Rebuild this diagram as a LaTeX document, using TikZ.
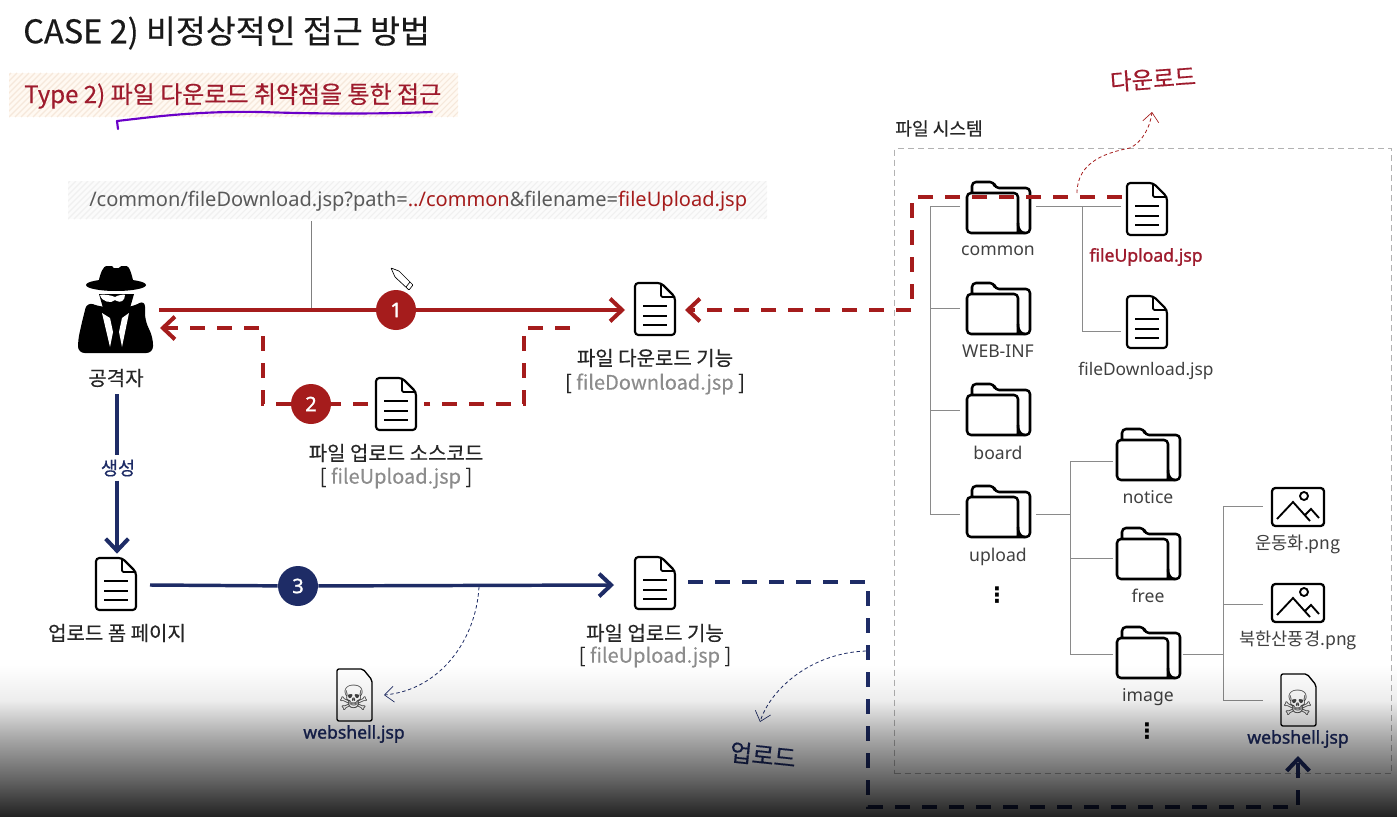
\documentclass[tikz,border=0pt]{standalone}
\usepackage{fontspec}
\setmainfont{Noto Sans CJK KR}
\newfontfamily\krm[FakeBold=0.35]{Noto Sans CJK KR}
\newfontfamily\lat{Noto Sans}
\newfontfamily\latb[FakeBold=1.3]{Noto Sans}
\newfontfamily\djv{DejaVu Sans}
\usetikzlibrary{arrows.meta,fadings,calc}
\definecolor{cred}{HTML}{A51C1C}
\definecolor{tred}{HTML}{9E1B2D}
\definecolor{cnavy}{HTML}{1E2C66}
\definecolor{tgray}{HTML}{595959}
\definecolor{lgray}{HTML}{8C8C8C}
\definecolor{treeg}{HTML}{8A8A8A}
\pgfdeclareverticalshading{botshade}{100bp}{color(0bp)=(pgftransparent!13); color(25bp)=(pgftransparent!13); color(37bp)=(pgftransparent!40); color(50bp)=(pgftransparent!67); color(61bp)=(pgftransparent!93); color(72bp)=(pgftransparent!100); color(100bp)=(pgftransparent!100)}
\pgfdeclarefading{fadeb}{\pgfuseshading{botshade}}
\newcommand{\fsz}[1]{\fontsize{#1}{#1}\selectfont}
\tikzset{
  x=.75pt,y=-.75pt,
  anchorbox/.style={inner sep=0pt,outer sep=0pt},
  lab/.style={inner sep=0pt,yshift=-1.5pt,font=\fsz{15}\krm\color{black!85},align=center},
  fn/.style={inner sep=0pt,yshift=-1.5pt,font=\fsz{13.2}\lat\color{black!75}},
  fk/.style={inner sep=0pt,yshift=-1.5pt,font=\fsz{13.2}\color{black!75}},
  fnb/.style={inner sep=0pt,yshift=-1.5pt,font=\fsz{13.2}\latb},
  num/.style={circle,inner sep=0pt,minimum size=30pt,text=white,font=\fsz{15}\latb},
  solidred/.style={draw=cred,line width=3pt},
  dashred/.style={draw=cred,line width=3pt,dash pattern=on 11.25pt off 9pt},
  solidnavy/.style={draw=cnavy,line width=2.6pt},
  dashnavy/.style={draw=cnavy,line width=2.6pt,dash pattern=on 11.25pt off 9pt},
  tip/.style={-{Straight Barb[length=9pt,width=17pt,line width=3pt]}},
  thin dash/.style={line width=.6pt,dash pattern=on 2.6pt off 2pt,-{Straight Barb[length=7pt,width=12pt,line width=.5pt]}},
  tree/.style={draw=treeg,line width=.7pt},
  docicon/.pic={
    \draw[line width=1.6pt,rounded corners=2.5pt,fill=white] (-20,-26) -- (6,-26) -- (20,-12) -- (20,26) -- (-20,26) -- cycle;
    \draw[line width=1.4pt,rounded corners=1pt] (6,-26) -- (6,-12) -- (20,-12);
    \draw[line width=1.5pt] (-12,-3) -- (12,-3) (-12,7) -- (12,7) (-12,16) -- (12,16);
  },
  foldicon/.pic={
    \draw[line width=1.9pt,rounded corners=3pt,line join=round] (-26,-13) -- (-26,-24) -- (-4,-24) -- (-3,-18) -- (32,-18) -- (32,27) -- (-31,27) -- (-31,-13) -- (20,-13) -- (20,27);
    \draw[line width=1.9pt] (20,17) .. controls (20,25) and (24,27) .. (27,27);
  },
  imgicon/.pic={
    \draw[line width=1.7pt,rounded corners=2.5pt] (-26,-19) rectangle (26,19);
    \draw[line width=1.4pt] (6,-11) circle (3pt);
    \draw[line width=1.4pt] (-21,12) -- (-5,-5) -- (12,14) (7,8) -- (13,2) -- (21,11);
  },
  shellicon/.pic={
    \draw[line width=1pt,rounded corners=1.5pt,fill=white] (-17,-26) -- (9,-26) -- (18,-15) -- (18,26) -- (-17,26) -- cycle;
    \node[inner sep=0pt,font=\fsz{26}\djv\color{black!75}] at (0.5,3) {☠};
  },
}
\newcommand{\hatchbar}[6]{%
  \begin{scope}
    \fill[#5] (#1,#2) rectangle (#3,#4);
    \clip (#1,#2) rectangle (#3,#4);
    \pgfmathsetmacro{\hh}{#4-#2}
    \foreach \k in {0,...,130} {
      \draw[#6,line width=.8pt] ($(#1,#4)+(\k*6,0)-(42,0)$) -- ++(\hh,-\hh);
    }
  \end{scope}}
\begin{document}
\begin{tikzpicture}
\useasboundingbox (0,0) rectangle (1399,817);
\fill[white] (0,0) rectangle (1399,817);

% Headings
\node[anchor=west,inner sep=0pt,font=\fsz{24.4}\krm\color{black!90}] (title) at (23,33) {CASE 2) 비정상적인 접근 방법};
\hatchbar{9}{73}{458}{117}{orange!5}{orange!18!brown!18}
\node[anchor=west,inner sep=0pt,font=\fsz{18}\krm\color{tred}] (sub) at (24,96) {Type 2) 파일 다운로드 취약점을 통한 접근};
\draw[draw={rgb,255:red,106;green,0;blue,200},line width=1.6pt,line cap=round,line join=round]
  (118,129) -- (117,121) .. controls (160,116) and (200,111) .. (260,112) .. controls (320,114) and (380,114) .. (432,112);

% URL
\hatchbar{68}{181}{767}{219}{black!1.5}{black!6}
\node[anchor=west,inner sep=0pt,font=\fsz{15.04}\lat\color{tgray}] (url) at (89,201) {/common/fileDownload.jsp?path=\textcolor{cred}{../common}\&filename=\textcolor{cred}{fileUpload.jsp}};
\coordinate (urlstem) at (311,221);

% left side icons
\node[anchorbox,minimum width=64.5pt,minimum height=60pt] (spy) at (116,310) {};
\begin{scope}[shift={(116,310)}]
  \fill[black,rounded corners=5pt] (-29,-8) -- (-15,-3) -- (16,-3) -- (29,-10) -- (29,10) -- (37,28) -- (37,43) -- (-38,43) -- (-38,30) -- (-34,12) -- cycle;
  \fill[black] (-17,-16) -- (18,-16) -- (14,-2) -- (0,6) -- (-13,-2) -- cycle;
  \fill[black,rounded corners=2pt] (-18,-24) .. controls (-16,-38) and (-12,-44) .. (-7,-44) .. controls (-3,-44) and (-2,-42) .. (0,-42) .. controls (3,-42) and (5,-44) .. (8,-44) .. controls (13,-44) and (16,-36) .. (18,-24) -- cycle;
  \fill[black] (0,-25) ellipse [x radius=22.5pt,y radius=4.5pt];
  \fill[white] (-16,-15) .. controls (-14,-16) and (-5,-15) .. (-1,-13) .. controls (2,-15) and (9,-16) .. (9,-15) .. controls (9,-9) and (4,-7) .. (1,-9) -- (-1,-10) .. controls (-5,-6) and (-14,-8) .. (-16,-15) -- cycle;
  \fill[white] (-14,3) -- (-6,8) -- (-3,22) -- (-6,37) -- cycle;
  \fill[white] (13,3) -- (6,8) -- (3,22) -- (6,37) -- cycle;
\end{scope}
\node[lab] (spyl) at (116,376) {공격자};

\node[anchorbox,minimum width=45pt,minimum height=42pt] (d1) at (655,310) {};
\pic at (655,309) {docicon};
\node[lab] (d1a) at (655,356) {파일 다운로드 기능};
\node[lab] (d1b) at (655,382) {[ \textcolor{lgray}{fileDownload.jsp} ]};

\node[anchorbox,minimum width=42pt,minimum height=42pt] (d2) at (396,404) {};
\pic at (396,404) {docicon};
\node[lab] (d2a) at (396,451) {파일 업로드 소스코드};
\node[lab] (d2b) at (396,476) {[ \textcolor{lgray}{fileUpload.jsp} ]};

\node[anchorbox,minimum width=39pt,minimum height=47pt] (d3) at (116,585) {};
\pic at (116,584) {docicon};
\node[lab] (d3a) at (117,631) {업로드 폼 페이지};

\node[anchorbox,minimum width=56pt,minimum height=42pt] (d4) at (650,585) {};
\pic at (655,583) {docicon};
\node[lab] (d4a) at (655,631) {파일 업로드 기능};
\node[lab] (d4b) at (655,655) {[ \textcolor{lgray}{fileUpload.jsp} ]};

\node[anchorbox,minimum width=42pt,minimum height=42pt] (ws1) at (354,695) {};
\pic at (354,695) {shellicon};
\node[fnb,text=cnavy] (ws1l) at (354,732) {webshell.jsp};

% File system box
\node[draw=black!30,line width=1pt,dash pattern=on 4.5pt off 3pt,anchor=north west,inner sep=0pt,minimum width=372.75pt,minimum height=468.75pt] (fs) at (894,148) {};
\node[lab,font=\fsz{13.6}\krm\color{black!85}] (fsl) at (939,126.5) {파일 시스템};

% Tree
\tikzset{fb/.style={anchorbox,minimum width=57pt,minimum height=45pt}, ib/.style={anchorbox,minimum width=52pt,minimum height=40pt}}
\node[fb] (f1) at (998,206) {}; \pic at (998,206) {foldicon}; \node[fn] (f1l) at (998,249) {common};
\node[fb] (f2) at (998,308) {}; \pic at (998,307) {foldicon}; \node[fn] (f2l) at (998,349) {WEB-INF};
\node[fb] (f3) at (998,410) {}; \pic at (998,408) {foldicon}; \node[fn] (f3l) at (998,451) {board};
\node[fb] (f4) at (998,514) {}; \pic at (998,510) {foldicon}; \node[fn] (f4l) at (998,555) {upload};
\node[lab,font=\fsz{16}\djv\bfseries] (f4d) at (997,593) {⋮};

\node[ib,minimum width=39pt] (x1) at (1147,206) {}; \pic at (1147,209) {docicon}; \node[fnb,text=tred] (x1l) at (1146,255) {fileUpload.jsp};
\node[ib,minimum width=39pt] (x2) at (1147,331) {}; \pic at (1147,322) {docicon}; \node[fn,font=\fsz{13}\lat\color{black!75}] (x2l) at (1146,369) {fileDownload.jsp};

\node[fb,minimum width=52pt] (g1) at (1148,461) {}; \pic at (1148,453) {foldicon}; \node[fn] (g1l) at (1148,495) {notice};
\node[fb,minimum width=52pt] (g2) at (1148,558) {}; \pic at (1148,552) {foldicon}; \node[fn] (g2l) at (1148,594) {free};
\node[fb,minimum width=52pt] (g3) at (1148,654) {}; \pic at (1148,651) {foldicon}; \node[fn] (g3l) at (1148,695) {image};
\node[lab,font=\fsz{16}\djv\bfseries] (g3d) at (1147,729) {⋮};

\node[ib,minimum width=52pt] (h1) at (1298,506) {}; \pic at (1298,507) {imgicon}; \node[fk] (h1l) at (1298,542) {운동화.png};
\node[ib,minimum width=52pt] (h2) at (1298,604) {}; \pic at (1298,603) {imgicon}; \node[fk] (h2l) at (1298,638) {북한산풍경.png};
\node[ib,minimum width=52pt] (h3) at (1298,700) {}; \pic at (1298,700) {shellicon}; \node[fnb,text=cnavy] (h3l) at (1298,737) {webshell.jsp};

\coordinate (ta) at (930,206);
\draw[tree] (f1.west) -- (ta) |- (f2.west);
\draw[tree] (ta) |- (f3.west);
\draw[tree] (ta) |- (f4.west);
\coordinate (tb) at (1082,206);
\draw[tree] (f1.east) -- (x1.west);
\draw[tree] (tb) |- (x2.west);
\coordinate (tc) at (1070,514);
\draw[tree] (f4.east) -- (tc);
\draw[tree] (tc) |- (g1.west);
\draw[tree] (tc) |- (g2.west);
\draw[tree] (tc) |- (g3.west);
\coordinate (td) at (1223,654);
\draw[tree] (g3.east) -- (td);
\draw[tree] (td) |- (h1.west);
\draw[tree] (td) |- (h2.west);
\draw[tree] (td) |- (h3.west);

% Step badges
\node[num,fill=cred] (n1) at (396,310) {1};
\node[num,fill=cred] (n2) at (311,404) {2};
\node[num,fill=cnavy] (n3) at (298,586) {3};

% Connectors
\draw[draw=black!50,line width=.7pt] (urlstem) -- (urlstem |- n1);
\draw[solidred] (spy.east) -- (n1);
\draw[solidred,tip] (n1) -- (d1.west);

\coordinate (c2a) at (570,328);
\coordinate (c2b) at (524,328);
\coordinate (c2c) at (524,404);
\coordinate (c2d) at (263,404);
\coordinate (c2e) at (263,328);
\coordinate (c2f) at (160,328);
\draw[dashred] (c2a) -- (c2b) -- (c2c) -- (d2.east);
\draw[dashred] (d2.west) -- (n2);
\draw[dashred,tip] (n2) -- (c2d) -- (c2e) -- (c2f);

\coordinate (c3a) at (912,197);
\coordinate (c3b) at (912,310);
\coordinate (c3s) at (1122,197);
\draw[dashred,tip] (c3s) -- (c3a) -- (c3b) -- (d1.east);

\coordinate (c4a) at (117,394);
\node[inner sep=3pt,fill=white,font=\fsz{14}\krm\color{cnavy}] (sc) at (118,468) {생성};
\draw[solidnavy] (c4a) -- (c4a |- sc.north);
\draw[solidnavy,tip] (c4a |- sc.south) -- (c4a |- d3.north);

\coordinate (c5a) at (150,585);
\coordinate (c5b) at (614,585);
\draw[solidnavy] (c5a) -- (n3);
\draw[solidnavy,tip] (n3) -- (c5b);

\coordinate (c6a) at (688,582);
\coordinate (c6b) at (868,582);
\coordinate (c6c) at (868,807);
\coordinate (c6d) at (1298,807);
\coordinate (c6e) at (1298,756);
\draw[dashnavy,tip] (c6a) -- (c6b) -- (c6c) -- (c6d) -- (c6e);

% Thin annotated curves
\coordinate (t1) at (479,587);
\coordinate (t2) at (384,695);
\draw[thin dash,cnavy] (t1) .. controls (476,640) and (440,690) .. (t2);
\coordinate (t3) at (866,651);
\coordinate (t4) at (760,722);
\draw[thin dash,cnavy] (t3) .. controls (810,653) and (770,690) .. (t4);
\coordinate (t5) at (1077,193);
\coordinate (t6) at (1152,112);
\draw[thin dash,cred] (t5) .. controls (1077,160) and (1110,152) .. (1130,148) .. controls (1142,142) and (1150,128) .. (t6);

\node[inner sep=0pt,rotate=4,font=\fsz{17.5}\krm\color{tred}] (dl) at (1153,79) {다운로드};
\node[inner sep=0pt,rotate=-6,font=\fsz{18}\krm\color{cnavy}] (ul) at (763,755) {업로드};

% Pencil cursor
\draw[line width=.5pt,fill=white,rounded corners=.5pt] (391,268) -- (399,271) -- (413,285) -- (409,290) -- (395,277) -- cycle;
\draw[line width=.5pt] (410,282) -- (406,287);

% bottom shade
\fill[black,path fading=fadeb] (0,655) rectangle (1399,817);
\end{tikzpicture}
\end{document}
